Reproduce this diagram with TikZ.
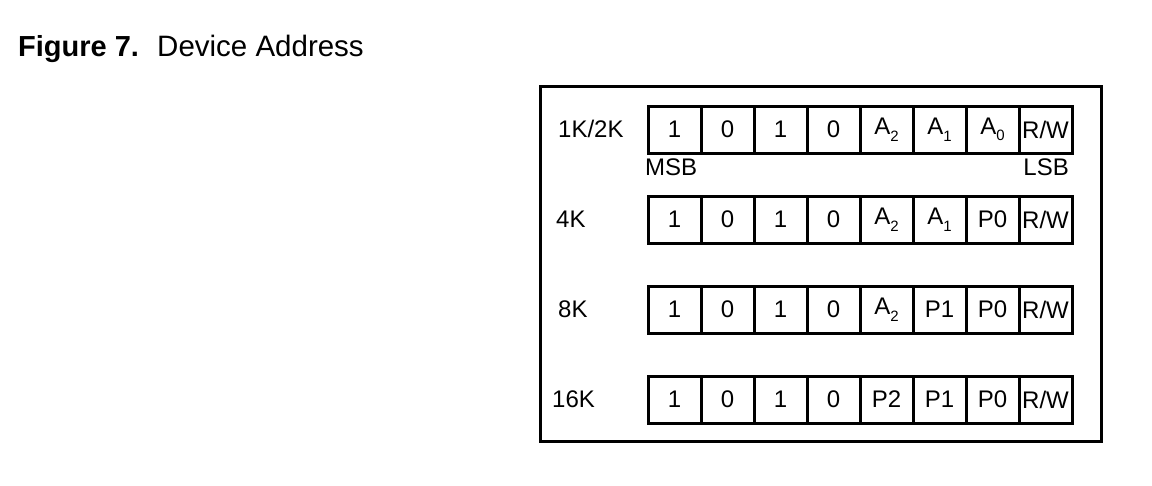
\documentclass[tikz,border=0pt]{standalone}
\usepackage{fontspec}
\setmainfont{Liberation Sans}
\newcommand\subs[1]{\raisebox{-6.5pt}{\fontsize{15}{15}\selectfont #1}}
\begin{document}
\begin{tikzpicture}[x=1pt,y=-1pt,
  cell/.style={draw, line width=3pt, minimum width=53pt, minimum height=47pt,
    inner sep=0pt, anchor=north west, font=\fontsize{24}{28}\selectfont},
  lbl/.style={anchor=base west, inner sep=0pt, font=\fontsize{24}{28}\selectfont},
  lblr/.style={anchor=base east, inner sep=0pt, font=\fontsize{24}{28}\selectfont},
  title/.style={anchor=base west, inner sep=0pt, font=\fontsize{29.5}{34}\selectfont}]
\useasboundingbox (0,0) rectangle (1152,485);
% title
\node[title, font=\fontsize{29}{34}\selectfont\bfseries] (fig) at (18,56) {Figure 7.};
\node[title] (cap) at (157,56) {Device Address};
% frame
\node[draw, line width=2.7pt, minimum width=561pt, minimum height=355pt,
  anchor=north west, inner sep=0pt] (frame) at (539,85) {};
% row 1
\foreach \t [count=\i] in {1,0,1,0,A\subs{2},A\subs{1},A\subs{0},R/W}
  \node[cell] (a\i) at ({646.5+53*(\i-1)},104.5) {\t};
% row 2
\foreach \t [count=\i] in {1,0,1,0,A\subs{2},A\subs{1},P0,R/W}
  \node[cell] (b\i) at ({646.5+53*(\i-1)},194.5) {\t};
% row 3
\foreach \t [count=\i] in {1,0,1,0,A\subs{2},P1,P0,R/W}
  \node[cell] (c\i) at ({646.5+53*(\i-1)},284.5) {\t};
% row 4
\foreach \t [count=\i] in {1,0,1,0,P2,P1,P0,R/W}
  \node[cell] (d\i) at ({646.5+53*(\i-1)},374.5) {\t};
% labels
\node[lbl] (l1) at (558,137.5) {1K/2K};
\node[lbl] (l2) at (556,227.5) {4K};
\node[lbl] (l3) at (558,317.5) {8K};
\node[lbl] (l4) at (552,407.5) {16K};
\node[lbl] (msb) at (645,175) {MSB};
\node[lblr] (lsb) at (1069,175) {LSB};
\end{tikzpicture}
\end{document}
